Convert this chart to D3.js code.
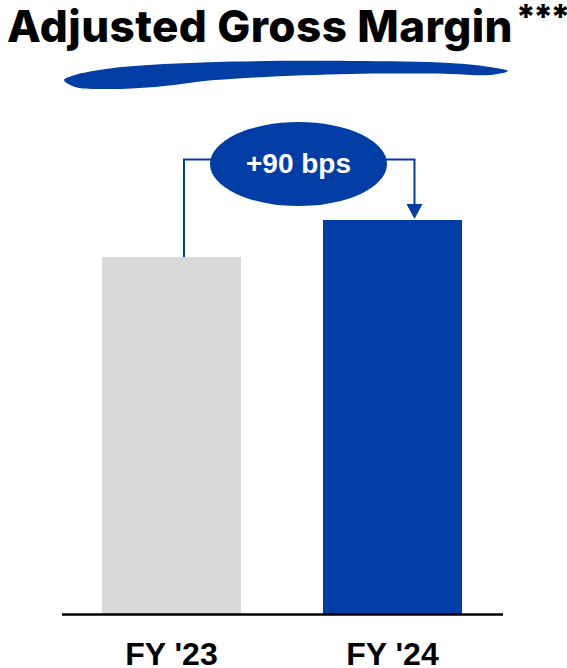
<!DOCTYPE html>
<html>
<head>
<meta charset="utf-8">
<script src="https://cdn.jsdelivr.net/npm/d3@7"></script>
<style>
  html, body { margin: 0; padding: 0; background: #ffffff; }
  svg { display: block; }
</style>
</head>
<body>
<div id="chart"></div>
<script>
// Adjusted gross margin, fiscal years (percent)
const categories = ["FY '23", "FY '24"];
const marginValues = [30.0, 30.9];
const barColors = ["#d9d9d9", "#003da5"];
const axisFloor = 21.3; // truncated value axis
const titleText = "Adjusted Gross Margin";
const titleMark = "***";

const W = 567, H = 668;
const BLUE = "#003da5";

const svg = d3.select("#chart").append("svg")
  .attr("width", W).attr("height", H);

// Title
const title = svg.append("text")
  .attr("x", 7).attr("y", 42)
  .attr("font-family", "Inter, 'Open Sans', sans-serif")
  .attr("font-weight", 800)
  .attr("font-size", 44)
  .attr("fill", "#000");
title.append("tspan")
  .attr("letter-spacing", 0.4)
  .text(titleText);
title.append("tspan")
  .attr("dy", -13).attr("dx", 3)
  .attr("font-size", 34)
  .attr("letter-spacing", -2.5)
  .text(titleMark);

// Brush-stroke underline
const stroke = [
  [64, 80], [75, 75], [88, 72], [122, 67], [215, 62], [350, 61], [450, 63], [490, 67], [508, 71],
  [490, 75], [450, 74], [350, 74], [215, 80], [155, 87], [105, 89], [75, 87]
];
svg.append("path")
  .attr("d", d3.line().curve(d3.curveCatmullRomClosed.alpha(0.5))(stroke))
  .attr("fill", BLUE);

// Scales
const x = d3.scaleBand()
  .domain(categories)
  .range([62, 502])
  .paddingInner(0.371)
  .paddingOuter(0.181);

const y = d3.scaleLinear()
  .domain([axisFloor, marginValues[1]])
  .range([614, 220]);

// Bars
svg.append("g").selectAll("rect")
  .data(categories)
  .join("rect")
  .attr("x", d => x(d))
  .attr("width", x.bandwidth())
  .attr("y", (d, i) => y(marginValues[i]))
  .attr("height", (d, i) => y(axisFloor) - y(marginValues[i]))
  .attr("fill", (d, i) => barColors[i]);

// Baseline and category labels
const xAxis = svg.append("g")
  .attr("transform", `translate(0,${y(axisFloor)})`)
  .call(d3.axisBottom(x).tickSize(0).tickPadding(28));
xAxis.select(".domain")
  .attr("d", "M62,0.5H503")
  .attr("stroke", "#000")
  .attr("stroke-width", 2.5);
xAxis.selectAll(".tick text")
  .attr("font-family", "'Liberation Sans', Arial, sans-serif")
  .attr("font-weight", 700)
  .attr("font-size", 32)
  .attr("fill", "#000")
  .attr("dy", "0.71em");

// Change callout: connector from FY '23 bar to FY '24 bar
const bps = Math.round((marginValues[1] - marginValues[0]) * 100);
const cx = 298.5, cy = 164, rx = 88.5, ry = 42;
const lineY = 159.5;
const leftX = x(categories[0]) + 82;
const rightX = x(categories[1]) + 91.5;
const arrowTip = y(marginValues[1]) - 1;
const arrowLen = 15, arrowHalf = 8;

const callout = svg.append("g");
callout.append("path")
  .attr("d", `M${leftX},${y(marginValues[0])}V${lineY}H${cx}`)
  .attr("fill", "none").attr("stroke", BLUE).attr("stroke-width", 2);
callout.append("path")
  .attr("d", `M${cx},${lineY}H${rightX}V${arrowTip - arrowLen + 2}`)
  .attr("fill", "none").attr("stroke", BLUE).attr("stroke-width", 2);
callout.append("path")
  .attr("d", `M${rightX - arrowHalf},${arrowTip - arrowLen}L${rightX + arrowHalf},${arrowTip - arrowLen}L${rightX},${arrowTip}Z`)
  .attr("fill", BLUE);
callout.append("ellipse")
  .attr("cx", cx).attr("cy", cy).attr("rx", rx).attr("ry", ry)
  .attr("fill", BLUE);
callout.append("text")
  .attr("x", cx).attr("y", 173)
  .attr("text-anchor", "middle")
  .attr("font-family", "'Liberation Sans', Arial, sans-serif")
  .attr("font-weight", 700)
  .attr("font-size", 28)
  .attr("fill", "#fff")
  .text(`${bps >= 0 ? "+" : ""}${bps} bps`);
</script>
</body>
</html>
